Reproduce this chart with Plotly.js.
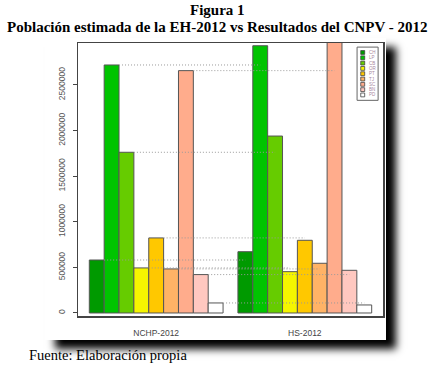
<!DOCTYPE html>
<html>
<head>
<meta charset="utf-8">
<script src="https://cdn.plot.ly/plotly-3.0.1.min.js"></script>
<style>
  html, body { margin: 0; padding: 0; background: #ffffff; }
  #wrap { position: relative; width: 436px; height: 368px; overflow: hidden; }
  #shadowbox { position: absolute; left: 45px; top: 38px; width: 341px; height: 302px;
               background: #ffffff; box-shadow: 10px 9px 8px #000000; }
  #chart { position: absolute; left: 0; top: 0; width: 436px; height: 368px; }
</style>
</head>
<body>
<div id="wrap">
  <div id="shadowbox"></div>
  <div id="chart"></div>
</div>
<script>
// Data
var groups = ["NCHP-2012", "HS-2012"];
var departments = ["CH", "LP", "CB", "OR", "PT", "TJ", "SC", "BN", "PD"];
var nchp2012 = [581000, 2719000, 1762000, 494000, 823000, 483000, 2657000, 421000, 110000];
var hs2012 = [672000, 2930000, 1940000, 453000, 797000, 545000, 3100000, 468000, 88000];
var yTickVals = [0, 500000, 1000000, 1500000, 2000000, 2500000];
var yTickText = ["0", "500000", "1000000", "1500000", "2000000", "2500000"];
var titleLine1 = "Figura 1";
var titleLine2 = "Población estimada de la EH-2012 vs Resultados del CNPV - 2012";
var sourceText = "Fuente: Elaboración propia";

// Styles
var barColors = ["#009a00", "#00c400", "#66cc00", "#f5f500", "#ffc800", "#ffb366", "#ffac8c", "#ffc8c0", "#ffffff"];
var groupSeries = [nchp2012, hs2012];

var traces = [];
departments.forEach(function (dep, i) {
  var xs = [], ys = [];
  groupSeries.forEach(function (series, g) {
    xs.push(g * (departments.length + 1) + i + 0.5);
    ys.push(series[i]);
  });
  traces.push({
    type: "bar", x: xs, y: ys, width: 1, name: dep, showlegend: false,
    marker: { color: barColors[i], line: { color: "#555555", width: 1 } },
    hoverinfo: "skip"
  });
});
// dotted comparison lines from census bar to survey bar
departments.forEach(function (dep, i) {
  traces.push({
    type: "scatter", mode: "lines",
    x: [i + 1, (departments.length + 1) + i + 0.5],
    y: [nchp2012[i], nchp2012[i]],
    line: { color: "#9a9a9a", width: 1, dash: "1px,2px" },
    showlegend: false, hoverinfo: "skip"
  });
});

var nBars = departments.length * 2 + 1;
var pad = nBars * 0.04;
var groupCenters = groups.map(function (g, k) { return k * (departments.length + 1) + departments.length / 2; });

// custom legend
var shapes = [];
var annotations = [];
var lx0 = 0.915, lx1 = 0.984, ly1 = 0.985, ly0 = 0.79;
shapes.push({ type: "rect", xref: "paper", yref: "paper", x0: lx0, x1: lx1, y0: ly0, y1: ly1,
              line: { color: "#666666", width: 1 }, fillcolor: "#ffffff", layer: "above" });
var rowH = (ly1 - ly0 - 0.02) / departments.length;
departments.forEach(function (dep, i) {
  var yc = ly1 - 0.01 - rowH * (i + 0.5);
  shapes.push({ type: "rect", xref: "paper", yref: "paper",
                x0: lx0 + 0.012, x1: lx0 + 0.025, y0: yc - 0.007, y1: yc + 0.007,
                fillcolor: barColors[i], line: { color: "#444444", width: 0.8 }, layer: "above" });
  annotations.push({ xref: "paper", yref: "paper", x: lx0 + 0.034, y: yc, text: dep,
                     xanchor: "left", yanchor: "middle", showarrow: false,
                     font: { family: "Liberation Sans, Arial, sans-serif", size: 4.5, color: "#a888a0" } });
});
annotations.push({ xref: "paper", yref: "paper", x: -0.167, y: -0.143, xanchor: "left", yanchor: "middle",
                   text: sourceText, showarrow: false,
                   font: { family: "Liberation Serif, Times New Roman, serif", size: 14.5, color: "#000000" } });
annotations.push({ xref: "paper", yref: "paper", x: 0.459, y: 1.121, xanchor: "center", yanchor: "middle",
                   text: "<b>" + titleLine1 + "</b>", showarrow: false,
                   font: { family: "Liberation Serif, Times New Roman, serif", size: 15, color: "#000000" } });
annotations.push({ xref: "paper", yref: "paper", x: 0.459, y: 1.0586, xanchor: "center", yanchor: "middle",
                   text: "<b>" + titleLine2 + "</b>", showarrow: false,
                   font: { family: "Liberation Serif, Times New Roman, serif", size: 15, color: "#000000" } });

var layout = {
  width: 436, height: 368,
  margin: { l: 78, r: 53, t: 43, b: 52 },
  paper_bgcolor: "rgba(0,0,0,0)", plot_bgcolor: "#ffffff",
  barmode: "overlay",
  showlegend: false,
  xaxis: { range: [-pad, nBars + pad], tickvals: groupCenters, ticktext: groups,
           showgrid: false, zeroline: false, showline: true, mirror: true, linecolor: "#444444", linewidth: 1.5,
           ticks: "", ticklabelstandoff: 8,
           tickfont: { family: "Liberation Sans, Arial, sans-serif", size: 8.5, color: "#444444" } },
  yaxis: { range: [-33000, 2960000], tickvals: yTickVals, ticktext: yTickText, tickangle: -90,
           showgrid: false, zeroline: false, showline: true, mirror: true, linecolor: "#444444", linewidth: 1.5,
           ticks: "outside", ticklen: 4, tickcolor: "#444444", ticklabelstandoff: 4,
           tickfont: { family: "Liberation Sans, Arial, sans-serif", size: 8.5, color: "#555555" } },
  shapes: shapes,
  annotations: annotations
};

Plotly.newPlot("chart", traces, layout, { displayModeBar: false, staticPlot: true });
</script>
</body>
</html>
